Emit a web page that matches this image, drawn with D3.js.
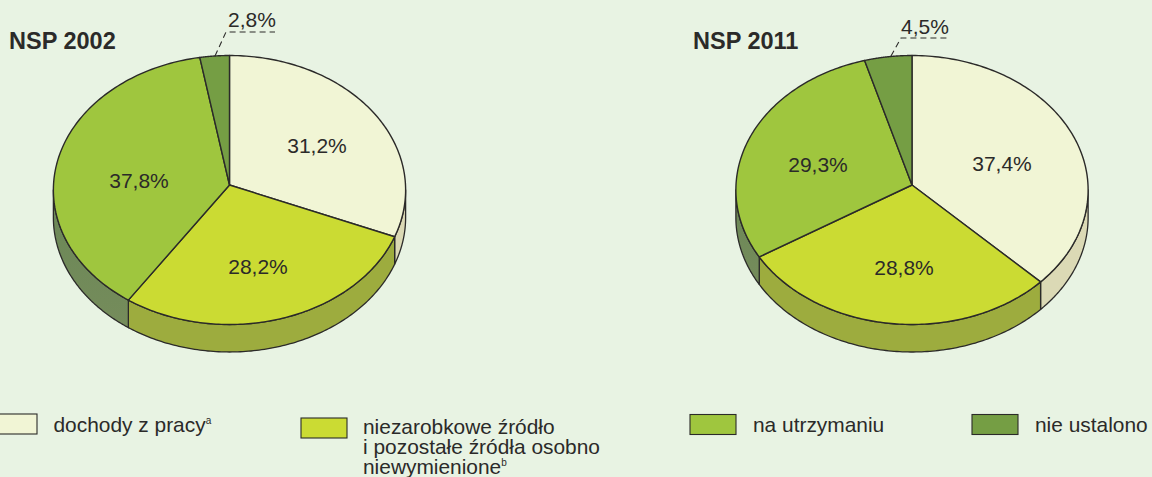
<!DOCTYPE html>
<html><head><meta charset="utf-8">
<script src="https://cdnjs.cloudflare.com/ajax/libs/d3/7.8.5/d3.min.js"></script>
<style>html,body{margin:0;padding:0;background:#e8f3e3}svg{display:block}text{font-family:"Liberation Sans",Arial,sans-serif;fill:#2b2a29}</style>
</head><body><div id="c"></div>
<script>
const categories=["dochody z pracy","niezarobkowe źródło i pozostałe źródła osobno niewymienione","na utrzymaniu","nie ustalono"];
const values2002=[31.2,28.2,37.8,2.8];
const values2011=[37.4,28.8,29.3,4.5];
const labels2002=["31,2%","28,2%","37,8%","2,8%"];
const labels2011=["37,4%","28,8%","29,3%","4,5%"];
const topColors=["#f1f5d5","#cbdb33","#9fc63e","#759e44"];
const sideColors=["#dbd9b5","#9dac3e","#6f8c58","#6f8c58"];
const W=1152,H=477;
const svg=d3.select("#c").append("svg").attr("width",W).attr("height",H);
svg.append("rect").attr("width",W).attr("height",H).attr("fill","#e8f3e3");
const defs=svg.append("defs");
const grad=defs.append("linearGradient").attr("id","sideG").attr("x1",0).attr("x2",0).attr("y1",0).attr("y2",1);
grad.append("stop").attr("offset",0).attr("stop-color","#6b8757");
grad.append("stop").attr("offset",1).attr("stop-color","#758c5b");
const RX=176,RY=134.3,K=0.0372,DEPTH=27.5,STROKE="#2b2a29";
const pieGen=d3.pie().sort(null).value(d=>d);
function drawPie(cx,apexY,values,labels,labelPos){
  const g=svg.append("g");
  const sx=d3.scaleLinear().domain([-1,1]).range([cx-RX,cx+RX]);
  const sy=d3.scaleLinear().domain([-1,1]).range([apexY-RY,apexY+RY]);
  // perspective projection of the disc: the disc's centre sits above the ellipse's centre
  const pt=(a,dz=0)=>{const w=1+K*Math.cos(a);return [sx(Math.sin(a)/w),sy(-Math.cos(a)/w)+dz];};
  const line=d3.line();
  const arcPts=(a0,a1,dz=0)=>d3.range(0,121).map(i=>pt(a0+(a1-a0)*i/120,dz));
  const arcs=pieGen(values);
  const front0=Math.acos(-K),front1=2*Math.PI-front0;
  arcs.forEach((d,i)=>{
    const a0=Math.max(d.startAngle,front0),a1=Math.min(d.endAngle,front1);
    if(a1<=a0)return;
    const pts=arcPts(a0,a1,0).concat(arcPts(a1,a0,DEPTH));
    g.append("path").attr("d",line(pts)+"Z").attr("fill",i==2?"url(#sideG)":sideColors[i]).attr("stroke",STROKE).attr("stroke-width",1.3).attr("stroke-linejoin","round");
  });
  arcs.forEach((d,i)=>{
    const pts=[[cx,apexY]].concat(arcPts(d.startAngle,d.endAngle,0));
    g.append("path").attr("d",line(pts)+"Z").attr("fill",topColors[i]).attr("stroke",STROKE).attr("stroke-width",1.4).attr("stroke-linejoin","round");
  });
  labels.forEach((t,i)=>{
    g.append("text").attr("x",labelPos[i][0]).attr("y",labelPos[i][1]).attr("text-anchor","middle").attr("font-size",21).text(t);
  });
}
drawPie(229.5,185,values2002,labels2002,[[317,153],[258,274],[139,188],[252,27]]);
drawPie(912,185,values2011,labels2011,[[1002,171],[904,275],[818,172],[925,34]]);
function leader(pts){svg.append("path").attr("d",d3.line()(pts)).attr("fill","none").attr("stroke",STROKE).attr("stroke-width",1.1).attr("stroke-dasharray","6 4");}
leader([[215,56],[226,32],[275,32]]);
leader([[891,56],[901,38],[947,38]]);
svg.append("text").attr("x",9).attr("y",49).attr("font-size",23.5).attr("font-weight","bold").text("NSP 2002");
svg.append("text").attr("x",693).attr("y",49).attr("font-size",23.5).attr("font-weight","bold").text("NSP 2011");
const legX=[-9,301,690,972],legY=[414,418,414.5,414.5];
legX.forEach((x,i)=>svg.append("rect").attr("x",x).attr("y",legY[i]).attr("width",46).attr("height",20).attr("fill",topColors[i]).attr("stroke",STROKE).attr("stroke-width",1.1));
function sup(sel,t){sel.append("tspan").attr("font-size",10).attr("dy",-8).text(t);}
const FS=20.9;
const t0=svg.append("text").attr("x",53.5).attr("y",432).attr("font-size",FS).text("dochody z pracy");sup(t0,"a");
svg.append("text").attr("x",363).attr("y",434).attr("font-size",FS).text("niezarobkowe źródło");
svg.append("text").attr("x",363).attr("y",454).attr("font-size",FS).text("i pozostałe źródła osobno");
const t1=svg.append("text").attr("x",363).attr("y",473.5).attr("font-size",FS).text("niewymienione");sup(t1,"b");
svg.append("text").attr("x",753).attr("y",432).attr("font-size",FS).text("na utrzymaniu");
svg.append("text").attr("x",1035).attr("y",432).attr("font-size",FS).text("nie ustalono");
</script></body></html>
